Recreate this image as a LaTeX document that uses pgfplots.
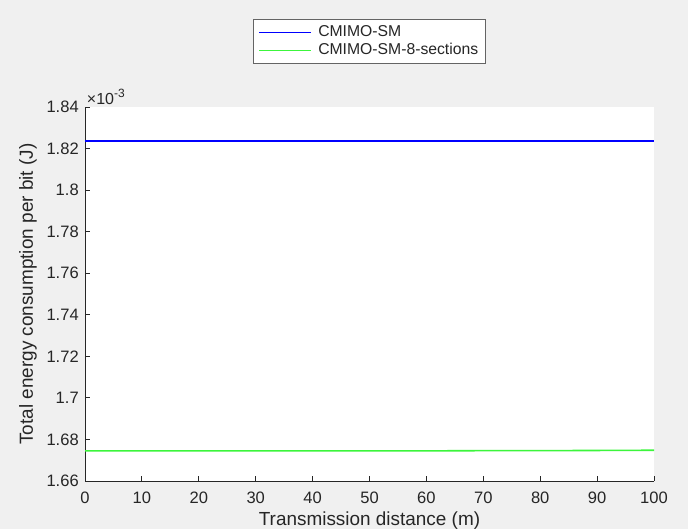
\documentclass[border=0pt]{standalone}
\usepackage{pgfplots}
\pgfplotsset{compat=1.18}
\usepackage{fontspec}
\setmainfont{Liberation Sans}
\definecolor{bggray}{RGB}{240,240,240}
\definecolor{axgray}{RGB}{38,38,38}
\definecolor{legedge}{RGB}{100,100,100}
\definecolor{mblue}{RGB}{0,0,255}
\definecolor{mgreen}{RGB}{60,245,60}
\begin{document}
\begin{tikzpicture}
\useasboundingbox[fill=bggray] (0,0) rectangle (516pt,396.75pt);
\begin{axis}[
  at={(63.75pt,36pt)}, anchor=south west,
  scale only axis, width=426.75pt, height=280.5pt,
  xmin=0, xmax=100, ymin=1.66, ymax=1.84,
  axis background/.style={fill=white},
  axis x line*=bottom, axis y line*=left,
  axis line style={draw=axgray, line width=0.7pt},
  tick align=inside, major tick length=3.75pt,
  tick style={draw=axgray, line width=0.7pt},
  xtick={0,10,...,100},
  ytick={1.66,1.68,1.7,1.72,1.74,1.76,1.78,1.8,1.82,1.84},
  yticklabels={1.66,1.68,1.7,1.72,1.74,1.76,1.78,1.8,1.82,1.84},
  /pgf/number format/assume math mode=true,
  ticklabel style={font=\fontsize{12.4}{14}\selectfont, text=axgray},
  xticklabel style={anchor=base, yshift=-16.5pt},
  yticklabel style={anchor=east, inner sep=0pt, xshift=-4.5pt},
  xlabel={Transmission distance (m)},
  ylabel={Total energy consumption per bit (J)},
  label style={font=\fontsize{14.2}{16}\selectfont, text=axgray},
  xlabel style={at={(axis description cs:0.5,-0.1203)}, anchor=base, inner sep=0pt},
  ylabel style={at={(axis description cs:-0.0914,0.5)}, anchor=base, inner sep=0pt},
  legend style={at={(axis description cs:0.5,1.2353)}, anchor=north,
    draw=legedge, line width=0.9pt, fill=white,
    font=\fontsize{11.8}{13}\selectfont, text=axgray,
    inner xsep=4pt, inner ysep=3pt, row sep=0pt,
    nodes={inner sep=1.5pt, text depth=0.2em}},
  legend cell align=left,
  legend image code/.code={\draw[#1, line width=1pt] (0pt,0pt) -- (39pt,0pt); \path (42pt,0pt);},
  clip=false,
]
\addplot[mblue, line width=1.1pt] coordinates {
(0,1.8236) (10,1.8236) (20,1.8236) (30,1.8236) (40,1.8236) (50,1.8236)
(60,1.8236) (70,1.8236) (80,1.8236) (90,1.8236) (100,1.8236)};
\addlegendentry{CMIMO-SM}
\addplot[mgreen, line width=1.2pt] coordinates {
(0,1.6745) (10,1.6745) (20,1.6745) (30,1.6745) (40,1.6745) (50,1.6745)
(60,1.6745) (70,1.6746) (80,1.6746) (90,1.6747) (100,1.6748)};
\addlegendentry{CMIMO-SM-8-sections}
\node[anchor=base west, inner sep=0pt, text=axgray, font=\fontsize{12}{13}\selectfont]
  at (axis description cs:0.003,1.0055) {×10\raisebox{0.85ex}{\fontsize{9}{10}\selectfont -3}};
\end{axis}
\end{tikzpicture}
\end{document}
